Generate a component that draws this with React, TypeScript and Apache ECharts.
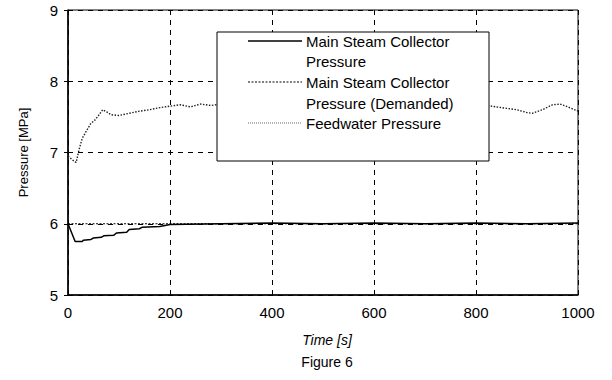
import React, { useEffect, useRef } from "react";
import * as echarts from "echarts";

const xTicks = [0, 200, 400, 600, 800, 1000];
const yTicks = [5, 6, 7, 8, 9];

const mainTime = [0, 14, 28, 30, 45, 50, 65, 70, 90, 95, 115, 120, 140, 145, 180, 200, 300, 400, 500, 600, 700, 800, 900, 1000];
const mainValues = [6.0, 5.75, 5.75, 5.77, 5.78, 5.8, 5.81, 5.83, 5.84, 5.87, 5.88, 5.92, 5.93, 5.95, 5.96, 5.99, 6.0, 6.01, 6.0, 6.01, 6.0, 6.01, 6.0, 6.01];

const demandTime = [0, 1000];
const demandValues = [6.0, 6.0];

const feedTime = [0, 8, 16, 22, 28, 36, 44, 52, 60, 68, 76, 84, 100, 120, 140, 160, 180, 200, 220, 240, 260, 280, 300, 400, 500, 600, 700, 800, 820, 840, 860, 880, 900, 910, 930, 950, 965, 980, 1000];
const feedValues = [6.95, 6.9, 6.86, 7.05, 7.2, 7.3, 7.4, 7.45, 7.52, 7.6, 7.57, 7.53, 7.52, 7.55, 7.58, 7.6, 7.63, 7.65, 7.67, 7.64, 7.68, 7.66, 7.68, 7.68, 7.67, 7.68, 7.67, 7.67, 7.66, 7.64, 7.62, 7.6, 7.56, 7.55, 7.6, 7.67, 7.68, 7.64, 7.58];

const legendLabels = [
  ["Main Steam Collector", "Pressure"],
  ["Main Steam Collector", "Pressure (Demanded)"],
  ["Feedwater Pressure"],
];

const FONT = "Liberation Sans, Arial, sans-serif";

export default function App() {
  const ref = useRef<HTMLDivElement>(null);
  useEffect(() => {
    if (!ref.current) return;
    const chart = echarts.init(ref.current, undefined, { renderer: "svg" });
    const zip = (t: number[], v: number[]) => t.map((x, i) => [x, v[i]]);
    const legendTextY = [41, 61, 82, 103, 123];
    const graphics: any[] = [
      {
        type: "rect",
        shape: { x: 217, y: 32, width: 272, height: 129 },
        style: { fill: "#fff", stroke: "#000", lineWidth: 1 },
        z: 10,
      },
      { type: "line", shape: { x1: 248, y1: 41, x2: 302, y2: 41 }, style: { stroke: "#000", lineWidth: 1.5 }, z: 11 },
      { type: "line", shape: { x1: 248, y1: 82, x2: 302, y2: 82 }, style: { stroke: "#000", lineWidth: 1, lineDash: [2, 1.5] }, z: 11 },
      { type: "line", shape: { x1: 248, y1: 123, x2: 302, y2: 123 }, style: { stroke: "#666", lineWidth: 1, lineDash: [1, 1] }, z: 11 },
    ];
    const allLines = legendLabels.flat();
    allLines.forEach((t, i) => {
      graphics.push({
        type: "text",
        x: 306,
        y: legendTextY[i],
        style: { text: t, font: `15px ${FONT}`, fill: "#000", verticalAlign: "middle", align: "left" },
        z: 11,
      });
    });
    graphics.push({
      type: "text",
      x: 327,
      y: 362,
      style: { text: "Figure 6", font: `14px ${FONT}`, fill: "#000", align: "center", verticalAlign: "middle" },
    });
    chart.setOption({
      animation: false,
      grid: { left: 68, right: 34, top: 10, bottom: 85, show: true, borderColor: "#000", borderWidth: 1 },
      xAxis: {
        type: "value",
        min: 0,
        max: 1000,
        interval: 200,
        name: "Time [s]",
        nameLocation: "middle",
        nameGap: 38,
        nameTextStyle: { fontFamily: FONT, fontSize: 14, fontStyle: "italic", color: "#000", padding: [0, 0, 0, 8] },
        axisLine: { lineStyle: { color: "#000", width: 1.5 } },
        axisTick: { inside: true, length: 4, lineStyle: { color: "#000" } },
        axisLabel: { fontFamily: FONT, fontSize: 15, color: "#000", margin: 10, formatter: (v: number) => String(v) },
        splitLine: { show: true, lineStyle: { color: "#000", type: [5, 5], width: 1 } },
      },
      yAxis: {
        type: "value",
        min: 5,
        max: 9,
        interval: 1,
        name: "Pressure [MPa]",
        nameLocation: "middle",
        nameGap: 38,
        nameTextStyle: { fontFamily: FONT, fontSize: 13, color: "#000" },
        axisLine: { show: true, lineStyle: { color: "#000", width: 1.5 } },
        axisTick: { show: true, inside: false, length: 4, lineStyle: { color: "#000" } },
        axisLabel: { fontFamily: FONT, fontSize: 15, color: "#000", margin: 10 },
        splitLine: { show: true, lineStyle: { color: "#000", type: [5, 5], width: 1 } },
      },
      graphic: graphics,
      series: [
        {
          name: "Main Steam Collector Pressure",
          type: "line",
          data: zip(mainTime, mainValues),
          showSymbol: false,
          lineStyle: { color: "#000", width: 1.5 },
          z: 3,
        },
        {
          name: "Main Steam Collector Pressure (Demanded)",
          type: "line",
          data: zip(demandTime, demandValues),
          showSymbol: false,
          lineStyle: { color: "#000", width: 1, type: [2, 1.5] },
          z: 2,
        },
        {
          name: "Feedwater Pressure",
          type: "line",
          data: zip(feedTime, feedValues),
          showSymbol: false,
          lineStyle: { color: "#222", width: 1.4, type: [1.5, 1.5] },
          z: 2,
        },
      ],
    });
    return () => chart.dispose();
  }, []);
  return <div ref={ref} style={{ width: 612, height: 380, position: "absolute", left: 0, top: 0, background: "#fff" }} />;
}
